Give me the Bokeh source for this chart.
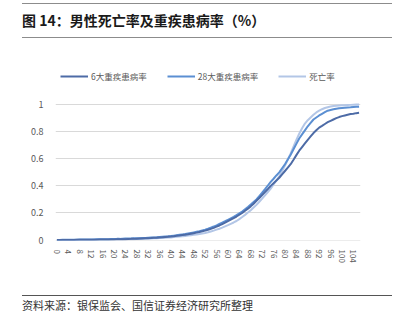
from bokeh.plotting import figure
from bokeh.models import (ColumnDataSource, Range1d, FixedTicker, Legend, LegendItem, Div)
from bokeh.layouts import column
from bokeh.embed import file_html
from bokeh.resources import INLINE

ages = list(range(0, 107))

ill6 = [0.000,0.000,0.001,0.001,0.001,0.001,0.001,0.002,0.002,0.002,
        0.002,0.003,0.003,0.003,0.003,0.004,0.004,0.004,0.005,0.005,
        0.005,0.006,0.006,0.007,0.007,0.008,0.009,0.009,0.010,0.011,
        0.012,0.013,0.014,0.015,0.017,0.018,0.020,0.021,0.023,0.025,
        0.027,0.029,0.032,0.034,0.037,0.040,0.043,0.047,0.051,0.055,
        0.060,0.065,0.070,0.076,0.083,0.090,0.099,0.108,0.118,0.129,
        0.140,0.151,0.162,0.174,0.187,0.200,0.216,0.232,0.249,0.268,
        0.290,0.311,0.333,0.355,0.377,0.400,0.420,0.440,0.460,0.485,
        0.510,0.535,0.560,0.593,0.627,0.660,0.687,0.714,0.740,0.765,
        0.790,0.810,0.830,0.843,0.857,0.870,0.880,0.890,0.900,0.908,
        0.915,0.920,0.925,0.930,0.933,0.937,0.940]

ill28 = [0.001,0.001,0.002,0.002,0.002,0.003,0.003,0.003,0.004,0.004,
         0.004,0.005,0.005,0.005,0.006,0.006,0.006,0.007,0.007,0.008,
         0.008,0.009,0.009,0.010,0.011,0.011,0.012,0.013,0.014,0.014,
         0.015,0.016,0.018,0.019,0.020,0.021,0.023,0.025,0.027,0.028,
         0.030,0.033,0.036,0.039,0.042,0.045,0.049,0.053,0.057,0.061,
         0.065,0.071,0.077,0.084,0.092,0.100,0.109,0.119,0.129,0.139,
         0.150,0.161,0.172,0.184,0.197,0.210,0.227,0.244,0.262,0.281,
         0.300,0.325,0.350,0.376,0.403,0.430,0.453,0.477,0.500,0.530,
         0.560,0.595,0.630,0.670,0.710,0.750,0.780,0.810,0.840,0.865,
         0.890,0.905,0.920,0.932,0.944,0.955,0.960,0.965,0.970,0.973,
         0.975,0.977,0.979,0.980,0.982,0.984,0.985]

death = [0.000,0.000,0.000,0.001,0.001,0.001,0.001,0.001,0.001,0.001,
         0.001,0.001,0.001,0.002,0.002,0.002,0.002,0.003,0.003,0.003,
         0.004,0.004,0.005,0.005,0.006,0.006,0.007,0.007,0.008,0.008,
         0.009,0.010,0.011,0.012,0.013,0.014,0.015,0.016,0.017,0.019,
         0.020,0.022,0.024,0.026,0.028,0.030,0.033,0.036,0.039,0.042,
         0.045,0.049,0.053,0.058,0.064,0.070,0.077,0.084,0.092,0.101,
         0.110,0.120,0.130,0.141,0.155,0.170,0.186,0.203,0.221,0.240,
         0.260,0.283,0.306,0.330,0.355,0.380,0.410,0.440,0.470,0.510,
         0.550,0.595,0.640,0.690,0.740,0.785,0.825,0.860,0.885,0.905,
         0.925,0.942,0.955,0.966,0.975,0.981,0.986,0.989,0.992,0.994,
         0.995,0.996,0.997,0.998,0.999,1.000,1.000]

series_names = ["6大重疾患病率", "28大重疾患病率", "死亡率"]
series_colors = ["#4d6ba6", "#5b8fd2", "#b3c6e6"]
x_ticks = list(range(0, 105, 4))
y_ticks = [0, 0.2, 0.4, 0.6, 0.8, 1]
y_labels = {0: "0", 0.2: "0.2", 0.4: "0.4", 0.6: "0.6", 0.8: "0.8", 1: "1"}

FONT = "Noto Sans CJK SC"

src = ColumnDataSource(dict(age=ages, ill6=ill6, ill28=ill28, death=death))

p = figure(width=406, height=252, output_backend="svg", toolbar_location=None,
           x_range=Range1d(-0.5, 106.5), y_range=Range1d(-0.003, 1.296),
           min_border_left=55, min_border_right=46, min_border_top=24, min_border_bottom=52)
p.outline_line_color = None
p.background_fill_color = "white"
p.border_fill_color = "white"

r_death = p.line("age", "death", source=src, line_color=series_colors[2], line_width=2)
r_28 = p.line("age", "ill28", source=src, line_color=series_colors[1], line_width=2)
r_6 = p.line("age", "ill6", source=src, line_color=series_colors[0], line_width=2)

p.xgrid.grid_line_color = None
p.ygrid.grid_line_color = "#d9d9d9"
p.ygrid.grid_line_width = 1
p.ygrid.ticker = FixedTicker(ticks=y_ticks)

p.xaxis.ticker = FixedTicker(ticks=x_ticks)
p.xaxis.major_label_orientation = "vertical"
p.xaxis.major_label_text_font_size = "8px"
p.xaxis.major_label_text_color = "#595959"
p.xaxis.major_label_text_font = FONT
p.xaxis.major_label_standoff = 3
p.xaxis.axis_line_color = None
p.xaxis.major_tick_line_color = None
p.xaxis.minor_tick_line_color = None

p.yaxis.ticker = FixedTicker(ticks=y_ticks)
p.yaxis.major_label_overrides = y_labels
p.yaxis.major_label_text_font_size = "9px"
p.yaxis.major_label_text_color = "#595959"
p.yaxis.major_label_text_font = FONT
p.yaxis.major_label_standoff = 6
p.yaxis.axis_line_color = None
p.yaxis.major_tick_line_color = None
p.yaxis.minor_tick_line_color = None

legend = Legend(items=[LegendItem(label=series_names[0], renderers=[r_6]),
                       LegendItem(label=series_names[1], renderers=[r_28]),
                       LegendItem(label=series_names[2], renderers=[r_death])],
                location=(5, 158), orientation="horizontal",
                glyph_width=28, glyph_height=10, label_standoff=3, spacing=20,
                padding=0, margin=0, border_line_color=None, background_fill_alpha=0,
                label_text_font_size="8.5px", label_text_color="#595959",
                label_text_font=FONT, label_height=10)
p.add_layout(legend, "center")

title_div = Div(width=406, height=40, margin=0, text=(
    "<div style=\"position:relative;width:406px;height:40px;font-family:'Noto Sans CJK SC';\">"
    "<div style='position:absolute;left:22px;top:3px;width:370px;border-top:1.5px solid #8c8c8c;'></div>"
    "<div style='position:absolute;left:22px;top:10px;font-size:14px;font-weight:bold;color:#1a1a1a;white-space:nowrap;'>图 14：男性死亡率及重疾患病率（%）</div>"
    "<div style='position:absolute;left:22px;top:37px;width:370px;border-top:1.5px solid #8c8c8c;'></div>"
    "</div>"))

source_div = Div(width=406, height=26, margin=0, text=(
    "<div style=\"position:relative;width:406px;height:26px;font-family:'Noto Sans CJK SC';\">"
    "<div style='position:absolute;left:22px;top:3px;width:370px;border-top:1px solid #555;'></div>"
    "<div style='position:absolute;left:22px;top:6px;font-size:11px;color:#333;white-space:nowrap;'>资料来源：银保监会、国信证券经济研究所整理</div>"
    "</div>"))

layout = column(title_div, p, source_div, spacing=0)

open("out.html", "w").write(file_html(layout, INLINE))
